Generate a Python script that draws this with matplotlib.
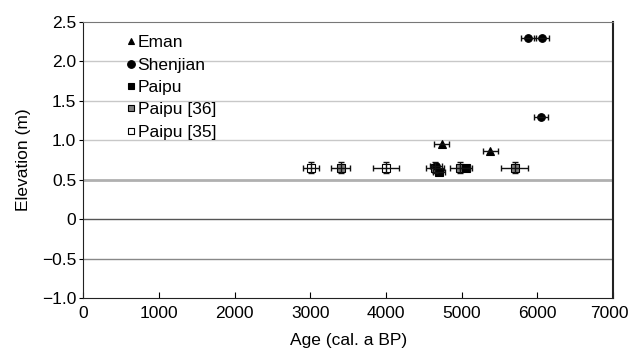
import numpy as np
import matplotlib.pyplot as plt
import matplotlib.transforms as mtransforms
from matplotlib.lines import Line2D

plt.rcParams.update({"font.family": ["Liberation Sans", "DejaVu Sans"],
                     "axes.unicode_minus": True})

# data
eman_age = [4740, 5380]
eman_elev = [0.95, 0.86]
eman_err = [100, 100]

shen_age = [5880, 6060, 6050, 4660]
shen_elev = [2.30, 2.30, 1.30, 0.68]
shen_err = [100, 100, 90, 80]

paipu_age = [4700, 5060]
paipu_elev = [0.60, 0.65]
paipu_err = [80, 80]

p36_age = [3400, 4650, 4980, 5700]
p36_elev = [0.65, 0.65, 0.65, 0.65]
p36_err = [130, 120, 130, 175]
p36_yerr = [0.07, 0.07, 0.07, 0.07]

p35_age = [3010, 4000]
p35_elev = [0.65, 0.65]
p35_err = [100, 170]
p35_yerr = [0.07, 0.07]

yticks = [-1.0, -0.5, 0, 0.5, 1.0, 1.5, 2.0, 2.5]
ytick_labels = ["\u22121.0", "\u22120.5", "0", "0.5", "1.0", "1.5", "2.0", "2.5"]
xticks = [0, 1000, 2000, 3000, 4000, 5000, 6000, 7000]

fig = plt.figure(figsize=(6.3, 3.52), dpi=100)
ax = fig.add_axes([0.132, 0.153, 0.841, 0.785])

# grid lines
for yv, c, lw in [(2.0, "#c8c8c8", 1.0), (1.5, "#c8c8c8", 1.0), (1.0, "#c8c8c8", 1.0),
                  (0.5, "#b0b0b0", 2.0), (0.0, "#555555", 1.0), (-0.5, "#888888", 1.0)]:
    ax.axhline(yv, color=c, linewidth=lw, zorder=1)

def draw(x, y, xerr, yerr, marker, ms, fc, lab):
    ax.plot(x, y, linestyle="none", marker=marker, ms=ms, mfc=fc, mec="black",
            mew=0.8, zorder=3, label=lab)
    ax.errorbar(x, y, xerr=xerr, yerr=yerr, fmt="none", ecolor="#111111",
                elinewidth=1.0, capsize=2.5, capthick=1.0, zorder=4)

draw(p35_age, p35_elev, p35_err, p35_yerr, "s", 6, "white", "Paipu [35]")
draw(p36_age, p36_elev, p36_err, p36_yerr, "s", 6, "#808080", "Paipu [36]")
draw(eman_age, eman_elev, eman_err, None, "^", 5.5, "black", "Eman")
draw(shen_age, shen_elev, shen_err, None, "o", 5.5, "black", "Shenjian")
draw(paipu_age, paipu_elev, paipu_err, None, "s", 5.5, "black", "Paipu")

ax.set_xlim(0, 7000)
ax.set_ylim(-1.0, 2.5)
ax.set_xticks(xticks)
ax.set_yticks(yticks)
ax.set_yticklabels(ytick_labels)
ax.tick_params(axis="x", direction="in", length=4, labelsize=12.5, pad=6)
ax.tick_params(axis="y", direction="out", length=3, labelsize=12.5, pad=2)
ax.set_xlabel("Age (cal. a BP)", fontsize=12.5, labelpad=8)
ax.set_ylabel("Elevation (m)", fontsize=12.5, labelpad=8)

# the last x label sits a little left of its tick, as in the source
last = ax.get_xticklabels()[-1]
last.set_transform(last.get_transform() +
                   mtransforms.ScaledTranslation(-4 / 100, 0, fig.dpi_scale_trans))

ax.spines["top"].set_color("#777777")
ax.spines["right"].set_linewidth(1.5)
for s in ["left", "bottom", "right"]:
    ax.spines[s].set_color("#222222")

names = ["Eman", "Shenjian", "Paipu", "Paipu [36]", "Paipu [35]"]
handles = [Line2D([], [], linestyle="none", marker=m, ms=s, mfc=fc, mec="black", mew=0.8)
           for m, s, fc in [("^", 5, "black"), ("o", 5.5, "black"), ("s", 5, "black"),
                            ("s", 5, "#808080"), ("s", 5, "white")]]
ax.legend(handles, names, loc="upper left", bbox_to_anchor=(0.065, 0.99),
          frameon=False, fontsize=12.5, handlelength=0.4, handletextpad=0.15,
          labelspacing=0.42, borderaxespad=0.2)

fig.savefig("out.png", dpi=100)
